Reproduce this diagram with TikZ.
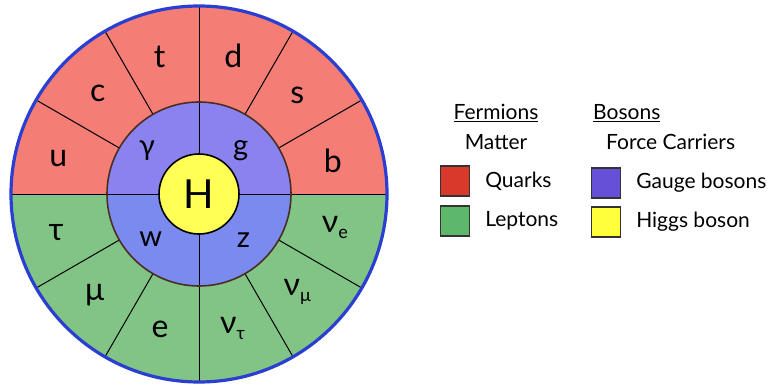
\documentclass[tikz,border=0pt]{standalone}
\usepackage{fontspec}
\setmainfont{Lato}
\usetikzlibrary{positioning}
\definecolor{quarkfill}{HTML}{F47D76}
\definecolor{leptonfill}{HTML}{82C486}
\definecolor{gaugeup}{HTML}{8A82EE}
\definecolor{gaugedown}{HTML}{7B8AEE}
\definecolor{higgsfill}{HTML}{FFFF55}
\definecolor{rimblue}{HTML}{2A3FD2}
\definecolor{ringbrown}{HTML}{4A2E22}
\definecolor{keyred}{HTML}{D9392B}
\definecolor{keygreen}{HTML}{5DB86B}
\definecolor{keypurple}{HTML}{6650D8}
\definecolor{keyyellow}{HTML}{FFFF3C}
\newcommand{\sub}[1]{\raisebox{-6pt}{\fontsize{18}{18}\selectfont #1}}
\tikzset{
  particle/.style={font=\fontsize{32}{33}\selectfont, inner sep=0pt},
  boson/.style={font=\fontsize{29}{30}\selectfont, inner sep=0pt},
  keybox/.style={draw=black!80, line width=1.2pt, minimum width=29pt, minimum height=30pt, inner sep=0pt},
  keytext/.style={font=\fontsize{21}{22}\selectfont, inner sep=0pt, anchor=west},
  spoke/.style={black, line width=1pt},
}
\begin{document}
\begin{tikzpicture}[x=1pt, y=1pt]
\useasboundingbox (0,0) rectangle (771,-385);
\fill[white] (0,0) rectangle (771,-385);
\begin{scope}[shift={(199,-194)}]
% outer ring
\fill[quarkfill] (0:188) arc (0:180:188) -- cycle;
\fill[leptonfill] (180:188) arc (180:360:188) -- cycle;
% gauge bosons ring
\fill[gaugeup] (0:92) arc (0:180:92) -- cycle;
\fill[gaugedown] (180:92) arc (180:360:92) -- cycle;
\foreach \a in {30,60,120,150,210,240,300,330}
  \draw[spoke] (\a:92) -- (\a:188);
\foreach \a in {0,90,180,270}
  \draw[spoke] (\a:40) -- (\a:188);
\draw[ringbrown, line width=1.6pt] (0,0) circle (92);
\node[circle, draw=black, line width=1.6pt, fill=higgsfill, minimum size=80pt, inner sep=0pt,
  font=\fontsize{40}{40}\selectfont] (H) at (0,0) {H};
\draw[rimblue, line width=3.2pt] (0,0) circle (188);
% particles
\node[particle] (u) at (166:145) {u};
\node[particle] (c) at (135:143) {c};
\node[particle] (t) at (106:143) {t};
\node[particle] (d) at (76:142) {d};
\node[particle] (s) at (45:139) {s};
\node[particle] (b) at (14:138) {b};
\node[particle] (tau) at (195:148) {τ};
\node[particle] (mu) at (224:145) {μ};
\node[particle] (e) at (254:141) {e};
\node[particle] (nutau) at (284:139) {ν\sub{τ}};
\node[particle] (numu) at (315:139) {ν\sub{μ}};
\node[particle] (nue) at (346:140) {ν\sub{e}};
\node[boson] (gamma) at (140:68) {γ};
\node[boson] (g) at (46:60) {g};
\node[boson] (w) at (223:66) {w};
\node[boson] (z) at (314:64) {z};
\end{scope}
% legend
\node[keytext, anchor=center] (fermions) at (496,-113) {\underline{Fermions}};
\node[keytext, anchor=center] (matter) at (496,-142) {Matter};
\node[keybox, fill=keyred] (quarkkey) at (455,-181) {};
\node[keytext, right=15pt of quarkkey] (quarks) {Quarks};
\node[keybox, fill=keygreen] (leptonkey) at (455,-221) {};
\node[keytext, right=15pt of leptonkey] (leptons) {Leptons};
\node[keytext] (bosons) at (593,-113) {\underline{Bosons}};
\node[keytext] (carriers) at (606,-142) {Force Carriers};
\node[keybox, fill=keypurple] (gaugekey) at (606,-183) {};
\node[keytext, right=15pt of gaugekey] (gauge) {Gauge bosons};
\node[keybox, fill=keyyellow] (higgskey) at (606,-222) {};
\node[keytext, right=15pt of higgskey] (higgs) {Higgs boson};
\end{tikzpicture}
\end{document}
